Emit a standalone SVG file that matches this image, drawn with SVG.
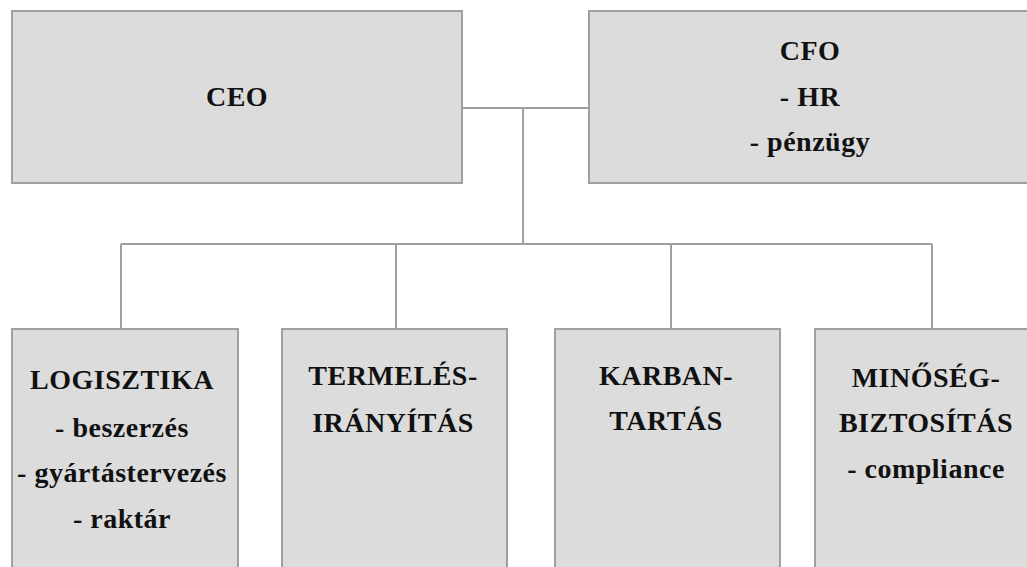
<svg xmlns="http://www.w3.org/2000/svg" width="1027" height="567" viewBox="0 0 1027 567">
<style>
.box{fill:#dcdcdc;stroke:#a0a0a0;stroke-width:2}
.t{font-family:"Liberation Serif","Times New Roman",serif;font-weight:bold;font-size:28px;fill:#111;text-anchor:middle;letter-spacing:0.5px}
.c{fill:none;stroke:#a0a0a0;stroke-width:2}
</style>
<rect x="0" y="0" width="1027" height="567" fill="#ffffff"/>
<g id="connectors">
<path class="c" d="M462 108 H589 M523 108 V244 M121 244 H932 M121 244 V329 M396 244 V329 M671 244 V329 M932 244 V329"/>
</g>
<g id="ceo">
<rect class="box" x="12" y="11" width="450" height="172"/>
<text class="t" x="237" y="106">CEO</text>
</g>
<g id="cfo">
<rect class="box" x="589" y="11" width="450" height="172"/>
<text class="t" x="810" y="60">CFO</text>
<text class="t" x="810" y="106">- HR</text>
<text class="t" x="810" y="151">- pénzügy</text>
</g>
<g id="logisztika">
<rect class="box" x="12" y="329" width="226" height="260"/>
<text class="t" x="122" y="389">LOGISZTIKA</text>
<text class="t" x="122" y="437">- beszerzés</text>
<text class="t" x="122" y="482">- gyártástervezés</text>
<text class="t" x="122" y="528">- raktár</text>
</g>
<g id="termeles">
<rect class="box" x="282" y="329" width="225" height="260"/>
<text class="t" x="393" y="385">TERMELÉS-</text>
<text class="t" x="393" y="432">IRÁNYÍTÁS</text>
</g>
<g id="karbantartas">
<rect class="box" x="555" y="329" width="225" height="260"/>
<text class="t" x="666" y="385">KARBAN-</text>
<text class="t" x="666" y="430">TARTÁS</text>
</g>
<g id="minoseg">
<rect class="box" x="815" y="329" width="225" height="260"/>
<text class="t" x="926" y="387">MINŐSÉG-</text>
<text class="t" x="926" y="432">BIZTOSÍTÁS</text>
<text class="t" x="926" y="478">- compliance</text>
</g>
</svg>
